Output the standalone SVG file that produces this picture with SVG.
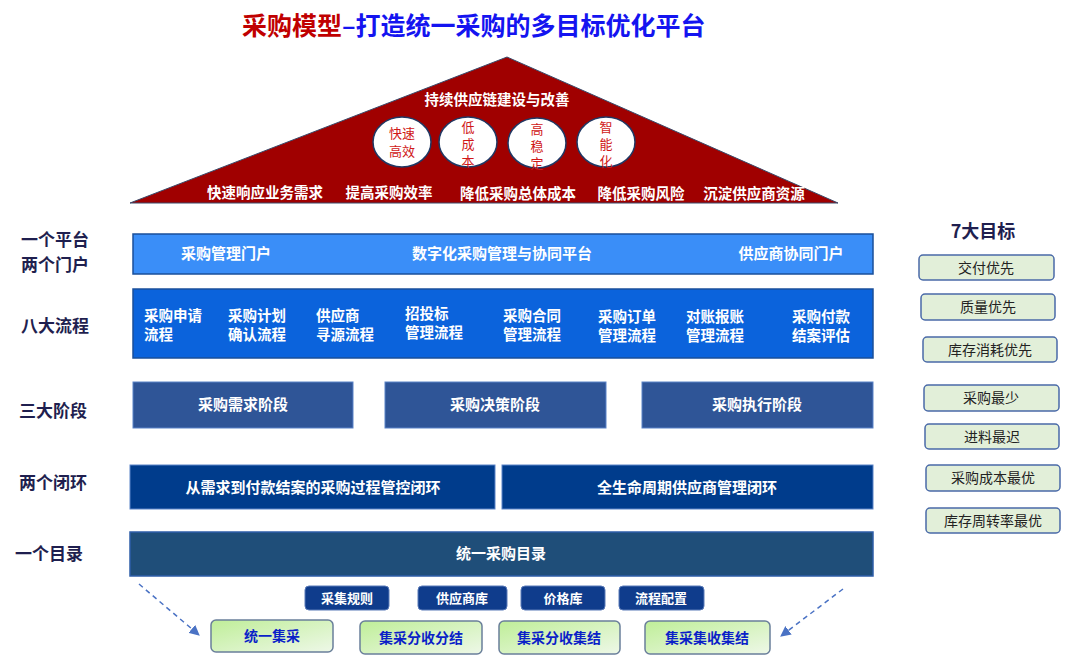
<svg xmlns="http://www.w3.org/2000/svg" width="1080" height="672" viewBox="0 0 1080 672">
<defs>
<style>
text{font-family:"Noto Sans CJK SC","Liberation Sans",sans-serif}
.b{font-weight:700}
.lbl{font-size:17px;font-weight:700;fill:#1f1f4f}
.cir{fill:#fff;stroke:#1f3864;stroke-width:1.5}
.ct{font-size:13px;fill:#d01818;text-anchor:middle}
.rt{font-size:14.5px;fill:#fff;font-weight:700;text-anchor:middle}
.pt{font-size:14.5px;fill:#fff;font-weight:700}
.st{font-size:15px;fill:#fff;font-weight:700;text-anchor:middle}
.sm{fill:#0f3c8c;stroke:#5a7ab8;stroke-width:1}
.smt{font-size:13px;fill:#fff;font-weight:700;text-anchor:middle}
.gb{fill:url(#gg);stroke:#6a7f9a;stroke-width:1.5}
.gt{font-size:14px;fill:#0b1fc8;font-weight:700;text-anchor:middle}
.tb{fill:#e2efd9;stroke:#4a6aa8;stroke-width:1.5}
.tt{font-size:14px;fill:#222;text-anchor:middle}
.dash{stroke:#4a72c4;stroke-width:1.5;stroke-dasharray:5 4;fill:none}
</style>
<linearGradient id="gg" x1="0" y1="0" x2="1" y2="1">
<stop offset="0" stop-color="#bfee98"/>
<stop offset="1" stop-color="#eef8e8"/>
</linearGradient>
<marker id="ah" viewBox="0 0 10 10" refX="9" refY="5" markerWidth="7" markerHeight="7" orient="auto">
<path d="M0,0 L10,5 L0,10 z" fill="#4a72c4"/>
</marker>
</defs>
<rect width="1080" height="672" fill="#fff"/>

<g id="title">
<text x="242" y="35" font-size="25" class="b"><tspan fill="#c00000">采购模型</tspan><tspan fill="#1414f0">–打造统一采购的多目标优化平台</tspan></text>
</g>

<g id="roof">
<polygon points="507,57 130,203 838,203" fill="#a00000" stroke="#3a4a6a" stroke-width="1"/>
<text x="497" y="105" class="rt" font-size="15">持续供应链建设与改善</text>
<text x="265" y="198" class="rt">快速响应业务需求</text>
<text x="389" y="198" class="rt">提高采购效率</text>
<text x="518" y="199" class="rt">降低采购总体成本</text>
<text x="641" y="199" class="rt">降低采购风险</text>
<text x="754" y="199" class="rt">沉淀供应商资源</text>
</g>
<g id="c1"><ellipse cx="402" cy="142" rx="29" ry="25" class="cir"/><text x="402" y="138" class="ct">快速</text><text x="402" y="156" class="ct">高效</text></g>
<g id="c2"><ellipse cx="468" cy="142" rx="29" ry="25" class="cir"/><text x="468" y="132" class="ct">低</text><text x="468" y="149" class="ct">成</text><text x="468" y="166" class="ct">本</text></g>
<g id="c3"><ellipse cx="537" cy="143" rx="29" ry="25" class="cir"/><text x="537" y="134" class="ct">高</text><text x="537" y="151" class="ct">稳</text><text x="537" y="168" class="ct">定</text></g>
<g id="c4"><ellipse cx="606" cy="142" rx="29" ry="25" class="cir"/><text x="606" y="132" class="ct">智</text><text x="606" y="149" class="ct">能</text><text x="606" y="166" class="ct">化</text></g>

<g id="labels">
<text x="21" y="246" class="lbl">一个平台</text>
<text x="21" y="271" class="lbl">两个门户</text>
<text x="21" y="332" class="lbl">八大流程</text>
<text x="19" y="417" class="lbl">三大阶段</text>
<text x="19" y="489" class="lbl">两个闭环</text>
<text x="15" y="560" class="lbl">一个目录</text>
</g>

<g id="platform">
<rect x="133" y="234" width="740" height="40" fill="#3a8ef8" stroke="#1a4f9a" stroke-width="1.5"/>
<text x="226" y="259" class="st">采购管理门户</text>
<text x="502" y="259" class="st">数字化采购管理与协同平台</text>
<text x="791" y="259" class="st">供应商协同门户</text>
</g>

<g id="processes">
<rect x="133" y="289" width="740" height="69" fill="#0b63dc" stroke="#1a4f9a" stroke-width="1.5"/>
<text x="144" y="321" class="pt">采购申请</text><text x="144" y="340" class="pt">流程</text>
<text x="228" y="321" class="pt">采购计划</text><text x="228" y="340" class="pt">确认流程</text>
<text x="316" y="321" class="pt">供应商</text><text x="316" y="340" class="pt">寻源流程</text>
<text x="405" y="319" class="pt">招投标</text><text x="405" y="338" class="pt">管理流程</text>
<text x="503" y="321" class="pt">采购合同</text><text x="503" y="340" class="pt">管理流程</text>
<text x="598" y="322" class="pt">采购订单</text><text x="598" y="341" class="pt">管理流程</text>
<text x="686" y="322" class="pt">对账报账</text><text x="686" y="341" class="pt">管理流程</text>
<text x="792" y="322" class="pt">采购付款</text><text x="792" y="341" class="pt">结案评估</text>
</g>

<g id="stages">
<rect x="133" y="382" width="220" height="46" fill="#2f5597" stroke="#5b83c8" stroke-width="1"/>
<text x="243" y="410" class="st">采购需求阶段</text>
<rect x="385" y="382" width="221" height="46" fill="#2f5597" stroke="#5b83c8" stroke-width="1"/>
<text x="495" y="410" class="st">采购决策阶段</text>
<rect x="642" y="382" width="231" height="46" fill="#2f5597" stroke="#5b83c8" stroke-width="1"/>
<text x="757" y="410" class="st">采购执行阶段</text>
</g>

<g id="loops">
<rect x="130" y="465" width="365" height="44" fill="#003c8c" stroke="#5b83c8" stroke-width="1"/>
<text x="313" y="493" class="st">从需求到付款结案的采购过程管控闭环</text>
<rect x="502" y="465" width="371" height="44" fill="#003c8c" stroke="#5b83c8" stroke-width="1"/>
<text x="687" y="493" class="st">全生命周期供应商管理闭环</text>
</g>

<g id="catalog">
<rect x="130" y="532" width="743" height="44" fill="#1f4e79" stroke="#2e5ea8" stroke-width="1.5"/>
<text x="501" y="559" class="st">统一采购目录</text>
</g>

<g id="repos">
<rect x="305" y="586" width="84" height="24" rx="4" class="sm"/><text x="347" y="603" class="smt">采集规则</text>
<rect x="418" y="586" width="89" height="24" rx="4" class="sm"/><text x="462" y="603" class="smt">供应商库</text>
<rect x="521" y="586" width="84" height="24" rx="4" class="sm"/><text x="563" y="603" class="smt">价格库</text>
<rect x="619" y="586" width="85" height="24" rx="4" class="sm"/><text x="661" y="603" class="smt">流程配置</text>
</g>

<g id="modes">
<rect x="211" y="620" width="122" height="32" rx="5" class="gb"/><text x="272" y="641" class="gt">统一集采</text>
<rect x="360" y="621" width="122" height="33" rx="5" class="gb"/><text x="421" y="643" class="gt">集采分收分结</text>
<rect x="499" y="621" width="121" height="33" rx="5" class="gb"/><text x="559" y="643" class="gt">集采分收集结</text>
<rect x="645" y="621" width="125" height="33" rx="5" class="gb"/><text x="707" y="643" class="gt">集采集收集结</text>
</g>

<g id="connectors">
<line x1="139" y1="584" x2="199" y2="635" class="dash" marker-end="url(#ah)"/>
<line x1="843" y1="589" x2="781" y2="636" class="dash" marker-end="url(#ah)"/>
</g>

<g id="goals">
<text x="983" y="238" font-size="18" class="b" fill="#1f1f4f" text-anchor="middle">7大目标</text>
<g id="g1"><rect x="919" y="255" width="135" height="25" rx="4" class="tb"/><text x="986" y="273" class="tt">交付优先</text></g>
<g id="g2"><rect x="921" y="294" width="134" height="26" rx="4" class="tb"/><text x="988" y="312" class="tt">质量优先</text></g>
<g id="g3"><rect x="923" y="337" width="134" height="25" rx="4" class="tb"/><text x="990" y="355" class="tt">库存消耗优先</text></g>
<g id="g4"><rect x="924" y="385" width="135" height="26" rx="4" class="tb"/><text x="991" y="403" class="tt">采购最少</text></g>
<g id="g5"><rect x="925" y="424" width="134" height="25" rx="4" class="tb"/><text x="992" y="442" class="tt">进料最迟</text></g>
<g id="g6"><rect x="926" y="465" width="134" height="26" rx="4" class="tb"/><text x="993" y="483" class="tt">采购成本最优</text></g>
<g id="g7"><rect x="926" y="508" width="134" height="25" rx="4" class="tb"/><text x="993" y="526" class="tt">库存周转率最优</text></g>
</g>
</svg>
